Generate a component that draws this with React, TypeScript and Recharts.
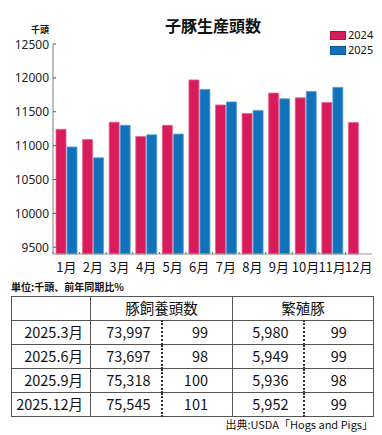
import { Bar, BarChart, XAxis, YAxis } from "recharts"

const months = ["1月", "2月", "3月", "4月", "5月", "6月", "7月", "8月", "9月", "10月", "11月", "12月"]
const pigs2024 = [11240, 11090, 11345, 11135, 11300, 11970, 11600, 11475, 11775, 11705, 11635, 11340]
const pigs2025: (number | null)[] = [10980, 10820, 11300, 11160, 11170, 11830, 11645, 11520, 11690, 11800, 11860, null]
const yTicks = [9500, 10000, 10500, 11000, 11500, 12000, 12500]

const tableRows = ["2025.3月", "2025.6月", "2025.9月", "2025.12月"]
const herdTotal = ["73,997", "73,697", "75,318", "75,545"]
const herdRatio = ["99", "98", "100", "101"]
const breeding = ["5,980", "5,949", "5,936", "5,952"]
const breedingRatio = ["99", "99", "98", "99"]

const PINK = "#d71b5b"
const BLUE = "#1271bb"
const FONT = "'Noto Sans CJK JP', 'Noto Sans', sans-serif"
const LATIN = "'Noto Sans', sans-serif"

const CHART_W = 382
const PLOT_LEFT = 53
const PLOT_RIGHT = 10
const BAND = (CHART_W - PLOT_LEFT - PLOT_RIGHT) / months.length

const chartData = months.map((m, i) => ({
  month: m,
  y2024: pigs2024[i],
  y2025: pigs2025[i],
}))

function YTick({ x, y, payload }: any) {
  return (
    <g>
      <text x={x} y={y} textAnchor="end" dominantBaseline="central" fontSize={12} fill="#222" fontFamily={LATIN}>
        {payload.value}
      </text>
      <line x1={x + 4} x2={x + 7} y1={y} y2={y} stroke="#555" />
    </g>
  )
}

function XTick({ x, y, payload }: any) {
  return (
    <g>
      <line x1={x - BAND / 2} x2={x - BAND / 2} y1={y - 2} y2={y} stroke="#666" />
      <text x={x} y={y + 12} textAnchor="middle" dominantBaseline="central" fontSize={13} fill="#111" fontFamily={FONT}>
        {payload.value}
      </text>
    </g>
  )
}

const cell: React.CSSProperties = {
  border: "1px solid #555",
  height: 23,
  padding: 0,
  fontSize: 14.5,
  lineHeight: 1,
}

const small: React.CSSProperties = { position: "absolute", lineHeight: 1 }

export default function App() {
  return (
    <div style={{ position: "absolute", left: 0, top: 0, width: 382, height: 435, background: "#fff", fontFamily: FONT, color: "#111" }}>
      <div style={{ ...small, left: 0, width: 426, top: 17, textAlign: "center", fontSize: 16, fontWeight: 700 }}>
        子豚生産頭数
      </div>
      <div style={{ ...small, left: 31, top: 25, fontSize: 9, fontWeight: 700 }}>千頭</div>

      <div style={{ position: "absolute", left: 330, top: 31, width: 14, height: 7, background: PINK, border: "0.5px solid #b0104a" }} />
      <div style={{ ...small, left: 348, top: 29, fontSize: 11, fontFamily: LATIN }}>2024</div>
      <div style={{ position: "absolute", left: 330, top: 46, width: 14, height: 7, background: BLUE, border: "0.5px solid #0d5a99" }} />
      <div style={{ ...small, left: 348, top: 44, fontSize: 11, fontFamily: LATIN }}>2025</div>

      <div style={{ position: "absolute", left: 0, top: 0 }}>
        <BarChart
          width={CHART_W}
          height={285}
          data={chartData}
          margin={{ top: 44, right: PLOT_RIGHT, bottom: 1, left: 0 }}
          barSize={10}
          barGap={1}
        >
          <XAxis
            dataKey="month"
            interval={0}
            height={30}
            tickSize={0}
            tickMargin={0}
            tickLine={false}
            axisLine={{ stroke: "#999" }}
            tick={<XTick />}
          />
          <YAxis
            width={PLOT_LEFT}
            domain={[9400, 12500]}
            ticks={yTicks}
            tickSize={0}
            tickMargin={4}
            tickLine={false}
            axisLine={{ stroke: "#aaa", strokeWidth: 1.5 }}
            tick={<YTick />}
          />
          <Bar dataKey="y2024" fill={PINK} stroke="#e8638f" strokeWidth={0.8} isAnimationActive={false} />
          <Bar dataKey="y2025" fill={BLUE} stroke="#5a9fd8" strokeWidth={0.8} isAnimationActive={false} />
        </BarChart>
      </div>

      <div style={{ ...small, left: 11, top: 282, fontSize: 10, fontWeight: 700 }}>単位:千頭、前年同期比%</div>

      <table style={{ position: "absolute", left: 11, top: 296, width: 362, borderCollapse: "collapse", tableLayout: "fixed" }}>
        <colgroup>
          <col style={{ width: 79 }} />
          <col style={{ width: 71 }} />
          <col style={{ width: 71 }} />
          <col style={{ width: 71 }} />
          <col style={{ width: 70 }} />
        </colgroup>
        <tbody>
          <tr>
            <td style={cell} />
            <td style={{ ...cell, textAlign: "center" }} colSpan={2}>豚飼養頭数</td>
            <td style={{ ...cell, textAlign: "center" }} colSpan={2}>繁殖豚</td>
          </tr>
          {tableRows.map((r, i) => (
            <tr key={r}>
              <td style={{ ...cell, textAlign: "right", paddingRight: 7 }}>{r}</td>
              <td style={{ ...cell, textAlign: "right", paddingRight: 10, borderRight: "2px dotted #333" }}>{herdTotal[i]}</td>
              <td style={{ ...cell, textAlign: "right", paddingRight: 24 }}>{herdRatio[i]}</td>
              <td style={{ ...cell, textAlign: "right", paddingRight: 14, borderRight: "2px dotted #333" }}>{breeding[i]}</td>
              <td style={{ ...cell, textAlign: "center" }}>{breedingRatio[i]}</td>
            </tr>
          ))}
        </tbody>
      </table>

      <div style={{ ...small, right: 9, top: 419, fontSize: 11 }}>出典:USDA「Hogs and Pigs」</div>
    </div>
  )
}
